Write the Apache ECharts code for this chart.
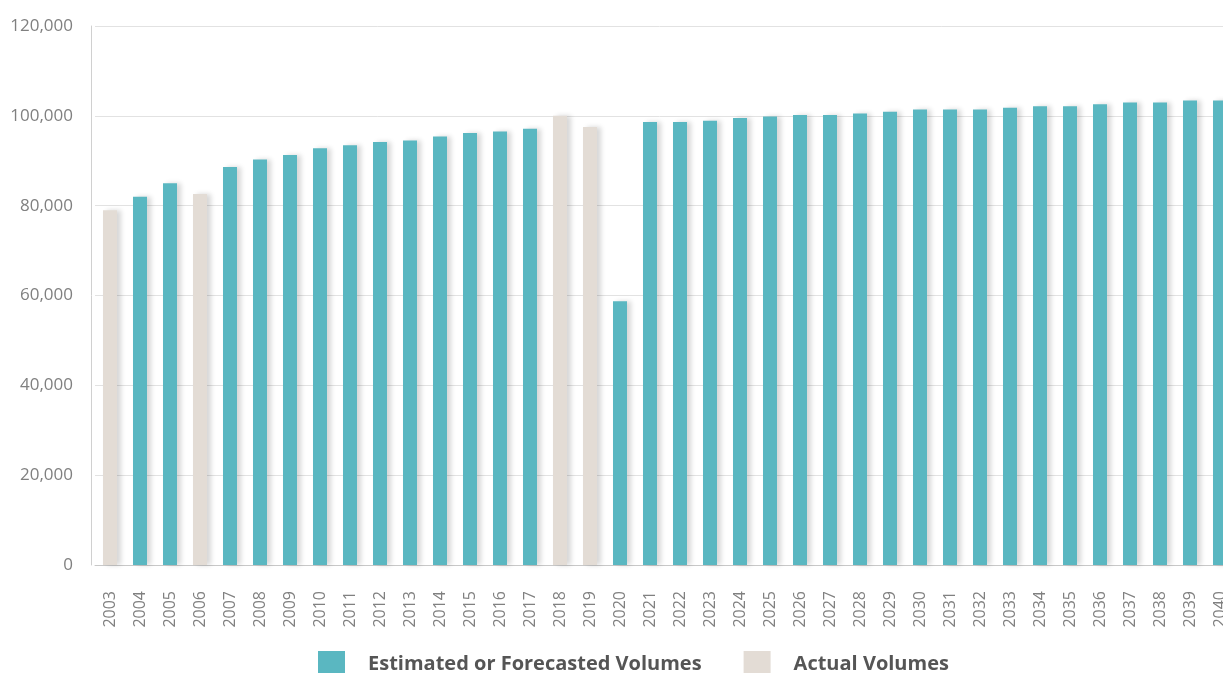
<!DOCTYPE html>
<html>
<head>
<meta charset="utf-8">
<script src="https://cdn.jsdelivr.net/npm/echarts@6/dist/echarts.min.js"></script>
<style>
  html, body { margin: 0; padding: 0; background: #fff; }
  #chart { width: 1223px; height: 673px; }
</style>
</head>
<body>
<div id="chart"></div>
<script>
// Years on the category axis
const years = ['2003','2004','2005','2006','2007','2008','2009','2010','2011','2012',
  '2013','2014','2015','2016','2017','2018','2019','2020','2021','2022','2023','2024',
  '2025','2026','2027','2028','2029','2030','2031','2032','2033','2034','2035','2036',
  '2037','2038','2039','2040'];

// Estimated or forecasted volumes ('-' where an actual count exists)
const estimated = ['-', 82000, 85000, '-', 88600, 90300, 91300, 92800, 93450, 94200,
  94500, 95400, 96200, 96500, 97100, '-', '-', 58700, 98650, 98600, 98900, 99500,
  99850, 100200, 100200, 100500, 100900, 101400, 101400, 101400, 101800, 102150, 102150,
  102600, 102950, 102950, 103400, 103400];

// Actual volumes
const actual = [79000, '-', '-', 82600, '-', '-', '-', '-', '-', '-',
  '-', '-', '-', '-', '-', 100000, 97500, '-', '-', '-', '-', '-',
  '-', '-', '-', '-', '-', '-', '-', '-', '-', '-', '-',
  '-', '-', '-', '-', '-'];

// Value axis ticks
const yTicks = [0, 20000, 40000, 60000, 80000, 100000, 120000];

const TEAL = '#5ab7c1';
const BEIGE = '#e3dcd5';

const barShadow = {
  shadowColor: 'rgba(0,0,0,0.16)',
  shadowBlur: 5,
  shadowOffsetX: 4,
  shadowOffsetY: 0
};

const chart = echarts.init(document.getElementById('chart'), null, { renderer: 'canvas' });

chart.setOption({
  animation: false,
  backgroundColor: '#ffffff',
  textStyle: { fontFamily: 'Open Sans' },
  // the plot runs past the right edge of the page, cutting off the last year
  grid: {
    left: 95, top: 26, bottom: 108, right: -12,
    containLabel: false,
    outerBoundsMode: 'none'
  },
  legend: {
    left: 313,
    top: 646,
    itemWidth: 27,
    itemHeight: 27,
    itemGap: 42,
    icon: 'rect',
    textStyle: {
      fontFamily: 'Open Sans',
      fontWeight: 'bold',
      fontSize: 20,
      color: '#555',
      padding: [0, 0, 0, 18]
    },
    data: ['Estimated or Forecasted Volumes', 'Actual Volumes']
  },
  xAxis: {
    type: 'category',
    data: years,
    boundaryGap: true,
    axisLine: { show: true, lineStyle: { color: '#c8c8c8', width: 1 } },
    axisTick: { show: false },
    axisLabel: {
      rotate: 90,
      interval: 0,
      margin: 26,
      fontSize: 16,
      color: '#808080',
      fontFamily: 'Open Sans'
    }
  },
  yAxis: {
    type: 'value',
    min: yTicks[0],
    max: yTicks[yTicks.length - 1],
    interval: yTicks[1] - yTicks[0],
    offset: 4,
    axisLine: { show: true, lineStyle: { color: '#d0d0d0', width: 1 } },
    axisTick: { show: false },
    splitLine: { show: true, lineStyle: { color: '#e2e2e2', width: 1 } },
    axisLabel: {
      margin: 18,
      fontSize: 17,
      color: '#808080',
      fontFamily: 'Open Sans',
      formatter: v => v.toLocaleString('en-US')
    }
  },
  series: [
    {
      name: 'Estimated or Forecasted Volumes',
      type: 'bar',
      stack: 'vol',
      barWidth: 14,
      data: estimated,
      itemStyle: Object.assign({ color: TEAL }, barShadow)
    },
    {
      name: 'Actual Volumes',
      type: 'bar',
      stack: 'vol',
      barWidth: 14,
      data: actual,
      itemStyle: Object.assign({ color: BEIGE }, barShadow)
    }
  ]
});
</script>
</body>
</html>
